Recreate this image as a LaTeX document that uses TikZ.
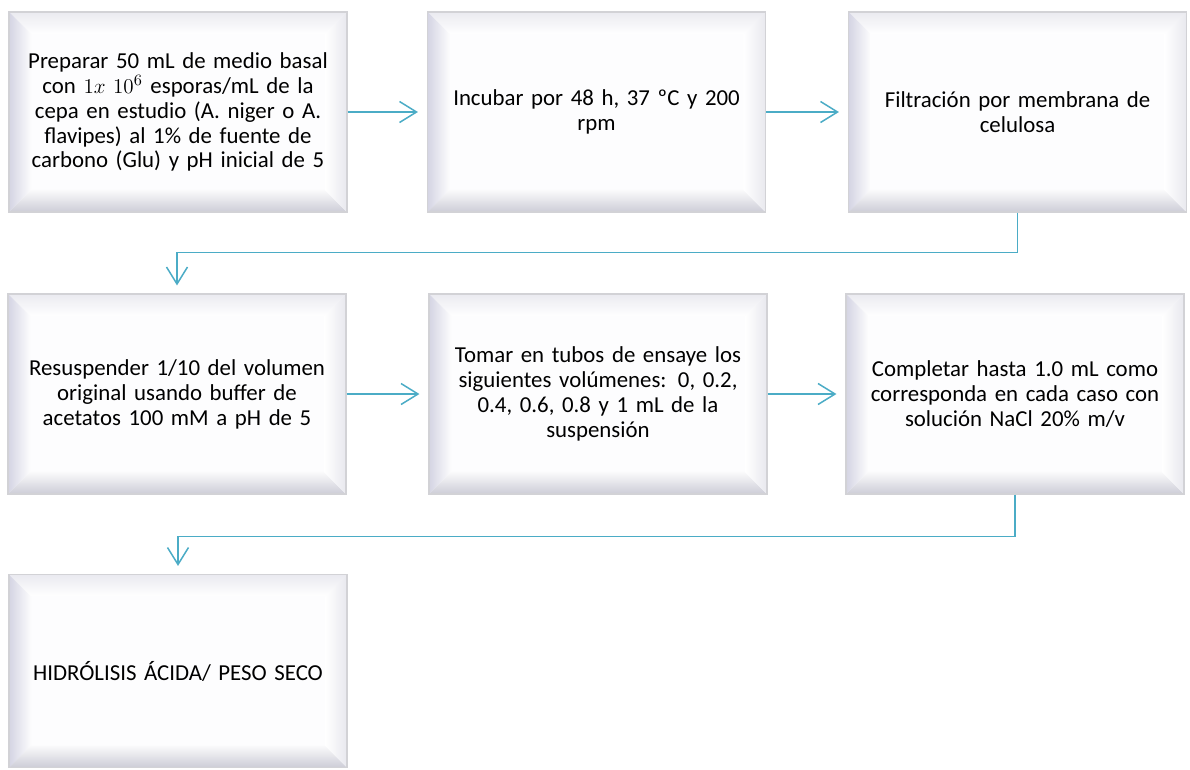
\documentclass[tikz,border=0pt]{standalone}
\usepackage{fontspec}
\setmainfont{Carlito}
\usetikzlibrary{arrows.meta}
\definecolor{arr}{HTML}{4BACC6}
\definecolor{bevtop}{HTML}{EAEAF0}
\definecolor{bevleft}{HTML}{D4D4E3}
\definecolor{bevbot}{HTML}{CDCDD7}
\definecolor{bevright}{HTML}{E8E8EE}
\definecolor{face}{HTML}{FDFDFE}
\definecolor{edge}{HTML}{D2D2D6}
\begin{document}
\begin{tikzpicture}[x=0.02cm,y=-0.02cm,
  stepbox/.style={minimum width=6.76cm, minimum height=4cm, inner sep=0pt,
    text width=6.4cm, align=center, font=\fontsize{13}{14.2}\selectfont,
    fill=face, draw=edge, line width=0.7pt,
    path picture={
      \coordinate (nw) at (path picture bounding box.north west);
      \coordinate (ne) at (path picture bounding box.north east);
      \coordinate (sw) at (path picture bounding box.south west);
      \coordinate (se) at (path picture bounding box.south east);
      \coordinate (inw) at ([shift={(0.44cm,-0.44cm)}]nw);
      \coordinate (ine) at ([shift={(-0.44cm,-0.44cm)}]ne);
      \coordinate (isw) at ([shift={(0.44cm,0.44cm)}]sw);
      \coordinate (ise) at ([shift={(-0.44cm,0.44cm)}]se);
      \shade[top color=bevtop, bottom color=white] (nw) -- (ne) -- (ine) -- (inw) -- cycle;
      \shade[left color=bevleft, right color=white!94!bevleft] (nw) -- (inw) -- (isw) -- (sw) -- cycle;
      \shade[top color=white!90!bevbot, bottom color=bevbot] (sw) -- (isw) -- (ise) -- (se) -- cycle;
      \shade[left color=white, right color=bevright] (ne) -- (se) -- (ise) -- (ine) -- cycle;
    }},
  conn/.style={draw=arr, line width=0.85pt,
    -{Straight Barb[length=0.34cm, width=0.42cm, line width=0.85pt]}}]
\useasboundingbox (0,0) rectangle (1190,769);
\fill[white] (0,0) rectangle (1190,769);

\node[stepbox] (b1) at (178,112) {\raisebox{0pt}[\height][0pt]{}Preparar 50 mL de medio basal\\ con \(1x\ 10^{6}\) esporas/mL de la\\ cepa en estudio (A. niger o A.\\ flavipes) al 1\% de fuente de\\ carbono (Glu) y pH inicial de 5};
\node[stepbox] (b2) at (596.5,112) {Incubar por 48 h, 37 ºC y 200\\ rpm};
\node[stepbox] (b3) at (1017.5,112) {Filtración por membrana de\\ celulosa};

\node[stepbox] (b4) at (177,394) {Resuspender 1/10 del volumen\\ original usando buffer de\\ acetatos 100 mM a pH de 5};
\node[stepbox] (b5) at (598,394) {Tomar en tubos de ensaye los\\ siguientes volúmenes: 0, 0.2,\\ 0.4, 0.6, 0.8 y 1 mL de la\\ suspensión};
\node[stepbox] (b6) at (1015,394) {Completar hasta 1.0 mL como\\ corresponda en cada caso con\\ solución NaCl 20\% m/v};

\node[stepbox, minimum height=3.86cm] (b7) at (178,671) {HIDRÓLISIS ÁCIDA/ PESO SECO};

\draw[conn, shorten >=0.18cm] (b1.east) -- (b2.west);
\draw[conn, shorten >=0.18cm] (b2.east) -- (b3.west);
\draw[conn, shorten >=0.18cm] (b4.east) -- (b5.west);
\draw[conn, shorten >=0.18cm] (b5.east) -- (b6.west);
\draw[conn, shorten >=0.16cm] (b3.south) -- ++(0,40) -| (b4.north);
\draw[conn, shorten >=0.16cm] (b6.south) -- ++(0,42) -| (b7.north);
\end{tikzpicture}
\end{document}
